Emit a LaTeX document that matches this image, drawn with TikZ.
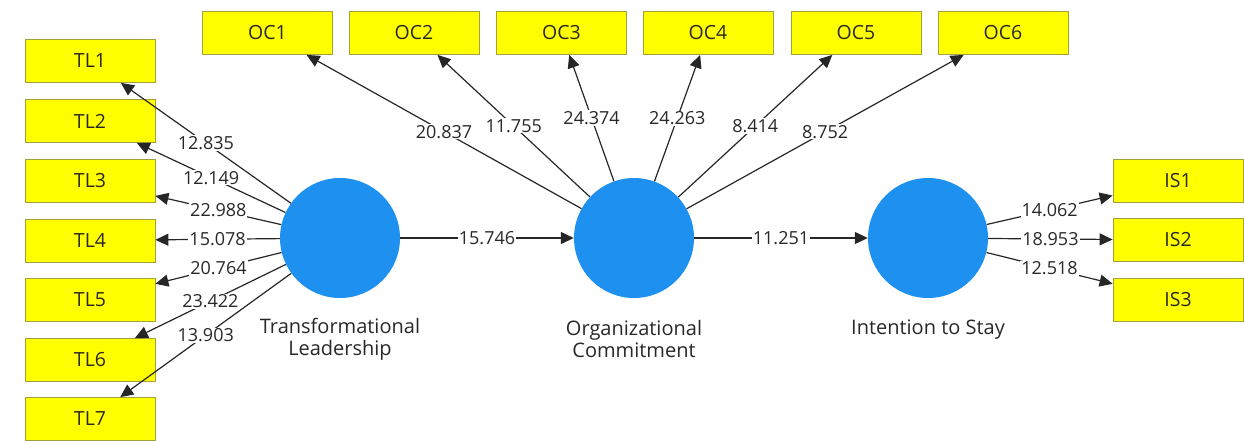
\documentclass[tikz,border=0pt]{standalone}
\usepackage{fontspec}
\setmainfont{Open Sans}
\usetikzlibrary{arrows.meta}
\definecolor{boxedge}{RGB}{160,160,60}
\definecolor{boxfill}{RGB}{255,255,0}
\definecolor{lvblue}{RGB}{30,144,240}
\definecolor{txt}{RGB}{40,40,40}
\begin{document}
\begin{tikzpicture}[x=1pt,y=-1pt,
  ind/.style={draw=boxedge, line width=0.8pt, fill=boxfill, minimum width=130pt, minimum height=43pt, inner sep=0pt, font=\fontsize{19.5}{22}\selectfont, text=txt},
  lv/.style={circle, fill=lvblue, minimum size=120pt, inner sep=0pt},
  conn/.style={line width=1.2pt, draw=black!85, -{Triangle[length=13pt,width=12pt]}},
  val/.style={fill=white, inner sep=1pt, font=\fontsize{18}{20}\selectfont, text=txt},
  lvname/.style={font=\fontsize{20}{22}\selectfont, align=center, text=txt}]
\useasboundingbox (0,0) rectangle (1244,440);
% latent variables
\node[lv] (TL) at (340,238) {};
\node[lv] (OC) at (634,238) {};
\node[lv] (IS) at (928,238) {};
\node[lvname] (TLc) at (340,339) {Transformational\\Leadership};
\node[lvname] (OCc) at (634,339) {Organizational\\Commitment};
\node[lvname] (ISc) at (928,330) {Intention to Stay};
% indicators
\node[ind] (TL1) at (90,61) {TL1};
\node[ind] (TL2) at (90,121) {TL2};
\node[ind] (TL3) at (90,181) {TL3};
\node[ind] (TL4) at (90,240.5) {TL4};
\node[ind] (TL5) at (90,300) {TL5};
\node[ind] (TL6) at (90,360) {TL6};
\node[ind] (TL7) at (90,419) {TL7};
\node[ind] (OC1) at (267.5,33) {OC1};
\node[ind] (OC2) at (414,33) {OC2};
\node[ind] (OC3) at (561.5,33) {OC3};
\node[ind] (OC4) at (708,33) {OC4};
\node[ind] (OC5) at (856,33) {OC5};
\node[ind] (OC6) at (1003,33) {OC6};
\node[ind] (IS1) at (1178,180.5) {IS1};
\node[ind] (IS2) at (1178,240) {IS2};
\node[ind] (IS3) at (1178,300) {IS3};
% connectors
\draw[conn] (TL) -- node[val]{12.835} (TL1);
\draw[conn] (TL) -- node[val]{12.149} (TL2);
\draw[conn] (TL) -- node[val]{22.988} (TL3);
\draw[conn] (TL) -- node[val]{15.078} (TL4);
\draw[conn] (TL) -- node[val]{20.764} (TL5);
\draw[conn] (TL) -- node[val]{23.422} (TL6);
\draw[conn] (TL) -- node[val]{13.903} (TL7);
\draw[conn] (OC) -- node[val]{20.837} (OC1);
\draw[conn] (OC) -- node[val]{11.755} (OC2);
\draw[conn] (OC) -- node[val]{24.374} (OC3);
\draw[conn] (OC) -- node[val]{24.263} (OC4);
\draw[conn] (OC) -- node[val]{8.414} (OC5);
\draw[conn] (OC) -- node[val]{8.752} (OC6);
\draw[conn] (IS) -- node[val]{14.062} (IS1);
\draw[conn] (IS) -- node[val]{18.953} (IS2);
\draw[conn] (IS) -- node[val]{12.518} (IS3);
\draw[conn] (TL) -- node[val]{15.746} (OC);
\draw[conn] (OC) -- node[val]{11.251} (IS);
\end{tikzpicture}
\end{document}
